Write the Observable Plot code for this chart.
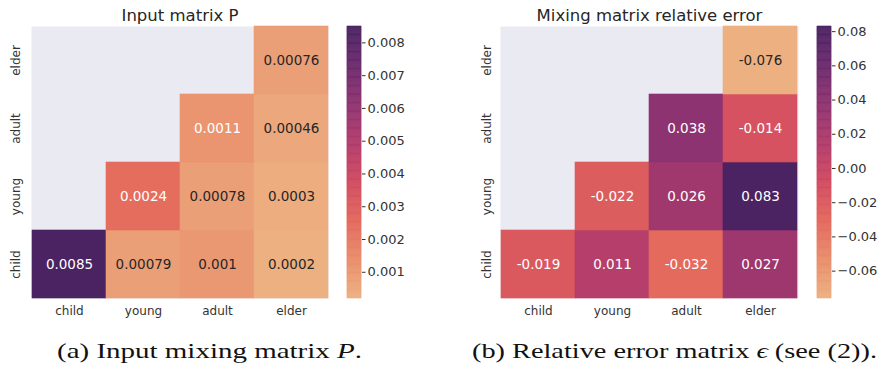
<!DOCTYPE html>
<html>
<head>
<meta charset="utf-8">
<script src="https://cdn.jsdelivr.net/npm/d3@7"></script>
<script src="https://cdn.jsdelivr.net/npm/@observablehq/plot@0.6"></script>
<style>
  html, body { margin: 0; padding: 0; background: #fff; }
  #fig { position: relative; width: 880px; height: 369px; overflow: hidden; background: #fff; }
  #fig > * { position: absolute; top: 0; }
</style>
</head>
<body>
<div id="fig"></div>
<script>
// Age groups, used for both matrix axes (columns left→right, rows bottom→top)
const groups = ["child", "young", "adult", "elder"];

// Input mixing matrix P, one array per row (upper triangle only; null = masked)
const pChild = [0.0085, 0.00079, 0.001, 0.0002];
const pYoung = [null, 0.0024, 0.00078, 0.0003];
const pAdult = [null, null, 0.0011, 0.00046];
const pElder = [null, null, null, 0.00076];

// Relative error of the estimated mixing matrix, same layout
const eChild = [-0.019, 0.011, -0.032, 0.027];
const eYoung = [null, -0.022, 0.026, 0.083];
const eAdult = [null, null, 0.038, -0.014];
const eElder = [null, null, null, -0.076];

// Colour-bar tick values
const pTicks = [0.001, 0.002, 0.003, 0.004, 0.005, 0.006, 0.007, 0.008];
const eTicks = [-0.06, -0.04, -0.02, 0.00, 0.02, 0.04, 0.06, 0.08];

// "flare" colour map: pale orange (low) to dark purple (high)
const flareStops = ["#edb081", "#e98d6b", "#e3685c", "#d14a61", "#b13c6c", "#8f3371", "#6c2b6d", "#4b2362"];
const flare = d3.piecewise(d3.interpolateRgb, flareStops);

const fig = document.getElementById("fig");
const H = 330, MT = 26, MB = 32;

function toCells(rows) {
  const cells = [];
  rows.forEach((vals, i) => vals.forEach((v, j) => {
    if (v != null) cells.push({row: groups[i], col: groups[j], v});
  }));
  return cells;
}

// relative luminance, used to pick light or dark annotation text
function luminance(c) {
  const {r, g, b} = d3.rgb(c);
  const f = x => { x /= 255; return x <= 0.03928 ? x / 12.92 : ((x + 0.055) / 1.055) ** 2.4; };
  return 0.2126 * f(r) + 0.7152 * f(g) + 0.0722 * f(b);
}

function heatmap({rows, title, left, width, marginLeft, labelDx}) {
  const cells = toCells(rows);
  const ext = d3.extent(cells, d => d.v);
  const scale = d3.scaleSequential(ext, flare);
  const dark = d => luminance(scale(d.v)) > 0.408;
  const annot = {x: "col", y: "row", text: d => String(d.v), fontSize: 13.5};
  const svg = Plot.plot({
    width, height: H, marginLeft, marginRight: 12, marginTop: MT, marginBottom: MB,
    style: {fontFamily: "DejaVu Sans", fontSize: "12px", color: "#333", background: "transparent"},
    x: {domain: groups, padding: 0, label: null, tickSize: 0, tickPadding: 8},
    y: {domain: groups.slice().reverse(), padding: 0, axis: null},
    color: {type: "linear", domain: ext, interpolate: flare},
    marks: [
      Plot.frame({fill: "#eaeaf2", stroke: "none"}),
      Plot.cell(cells, {x: "col", y: "row", fill: "v", stroke: "v", strokeWidth: 0.6}),
      Plot.text(cells.filter(dark), {...annot, fill: "#262626"}),
      Plot.text(cells.filter(d => !dark(d)), {...annot, fill: "white"}),
      Plot.text(groups, {y: d => d, frameAnchor: "left", textAnchor: "middle", lineAnchor: "middle",
        dx: -labelDx, rotate: -90, fill: "#333", fontSize: 12}),
      Plot.text([title], {frameAnchor: "top", lineAnchor: "middle", dy: -11, fontSize: 16.5, fill: "#262626"})
    ]
  });
  svg.style.left = left + "px";
  fig.appendChild(svg);
  return ext;
}

function colorbar({ext, ticks, format, left, width, marginLeft, marginRight}) {
  const n = 240;
  const slices = d3.range(n).map(i => {
    const y1 = ext[0] + (ext[1] - ext[0]) * i / n;
    const y2 = ext[0] + (ext[1] - ext[0]) * (i + 1) / n;
    return {y1, y2, mid: (y1 + y2) / 2};
  });
  const svg = Plot.plot({
    width, height: H, marginLeft, marginRight, marginTop: MT, marginBottom: MB,
    style: {fontFamily: "DejaVu Sans", fontSize: "13px", color: "#333", background: "transparent"},
    y: {domain: ext, axis: "right", ticks, tickFormat: format, tickSize: 3.5, tickPadding: 2.5, label: null},
    color: {type: "linear", domain: ext, interpolate: flare},
    marks: [
      Plot.rect(slices, {y1: "y1", y2: "y2", fill: "mid", stroke: "mid", strokeWidth: 0.6})
    ]
  });
  svg.style.left = left + "px";
  fig.appendChild(svg);
}

const pExt = heatmap({rows: [pChild, pYoung, pAdult, pElder], title: "Input matrix P",
  left: 0, width: 340, marginLeft: 31, labelDx: 15});
colorbar({ext: pExt, ticks: pTicks, format: d3.format(".3f"), left: 340, width: 100, marginLeft: 7, marginRight: 79});

const eExt = heatmap({rows: [eChild, eYoung, eAdult, eElder], title: "Mixing matrix relative error",
  left: 440, width: 370, marginLeft: 60, labelDx: 13});
colorbar({ext: eExt, ticks: eTicks, format: d3.format(".2f"), left: 810, width: 70, marginLeft: 7, marginRight: 49});

// Sub-figure captions
const cap = d3.create("svg").attr("width", 880).attr("height", 369)
  .style("left", "0px").style("pointer-events", "none");
const capStyle = t => t.attr("y", 358).attr("font-family", "Liberation Serif, serif")
  .attr("font-size", 21).attr("fill", "#111").attr("lengthAdjust", "spacingAndGlyphs");
const a = cap.append("text").attr("x", 57).attr("textLength", 305).call(capStyle);
a.append("tspan").text("(a) Input mixing matrix ");
a.append("tspan").attr("font-style", "italic").text("P");
a.append("tspan").text(".");
const b = cap.append("text").attr("x", 472).attr("textLength", 405).call(capStyle);
b.append("tspan").text("(b) Relative error matrix ");
b.append("tspan").attr("font-style", "italic").text("ϵ");
b.append("tspan").text(" (see (2)).");
fig.appendChild(cap.node());
</script>
</body>
</html>
